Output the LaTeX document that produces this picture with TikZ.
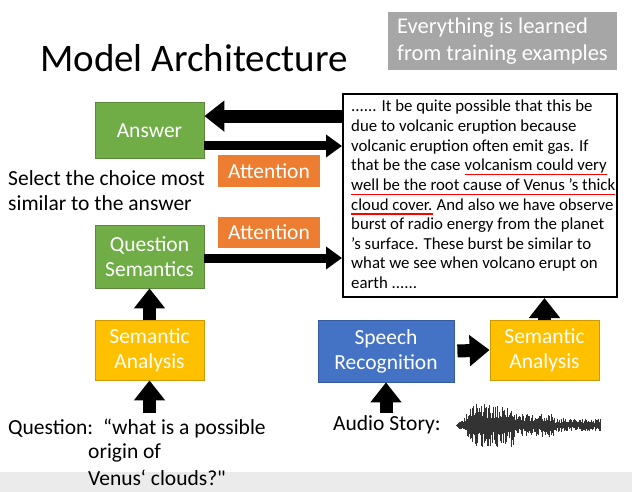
\documentclass[tikz,border=0pt]{standalone}
\usepackage{fontspec}
\setmainfont{Carlito}
\usetikzlibrary{arrows.meta}
\definecolor{grn}{HTML}{70AD47}
\definecolor{yel}{HTML}{FFC000}
\definecolor{blu}{HTML}{4472C4}
\definecolor{org}{HTML}{ED7D31}
\definecolor{gry}{HTML}{A6A6A6}
\definecolor{ulred}{HTML}{FF0000}
\begin{document}
\begin{tikzpicture}[x=1pt,y=-1pt,
  box/.style={draw=#1!80!black,fill=#1,text=white,minimum width=109pt,minimum height=56pt,align=center,font=\fontsize{21.5}{25}\selectfont,inner sep=0pt,line width=0.8pt},
  att/.style={fill=org,text=white,minimum width=102pt,minimum height=31pt,font=\fontsize{21.5}{25}\selectfont,inner sep=0pt},
  big/.style={line width=13pt,-{Triangle[length=20pt,width=30pt]}},
  thin/.style={line width=9pt,-{Triangle[length=16pt,width=22pt]}},
  txt/.style={font=\fontsize{21.5}{26}\selectfont,anchor=west,inner sep=0pt},
  bl/.style={font=\fontsize{16.8}{20}\selectfont,anchor=base west,inner sep=0pt},
  ul/.style={draw=ulred,line width=1.3pt}]
\useasboundingbox (0,0) rectangle (632,492);
\fill[white] (0,0) rectangle (632,492);
\fill[black!8] (0,472) rectangle (632,492);
\node[font=\fontsize{39}{44}\selectfont,inner sep=0pt] (title) at (194,58) {Model Architecture};
\node[fill=gry,text=white,minimum width=229pt,minimum height=58pt,align=left,font=\fontsize{22.5}{27}\selectfont,inner sep=0pt] (learn) at (502.5,41) {Everything is learned\\from training examples};
\node[box=grn] (ans) at (149.5,130.5) {Answer};
\node[box=grn,minimum height=63pt] (qs) at (149.5,256.5) {Question\\Semantics};
\node[box=yel,minimum height=60pt] (sa1) at (149.5,350) {Semantic\\Analysis};
\node[box=blu,minimum width=136pt,minimum height=62pt] (sr) at (386,351) {Speech\\Recognition};
\node[box=yel,minimum height=60pt] (sa2) at (544.5,350) {Semantic\\Analysis};
\node[draw,line width=2pt,minimum width=274pt,minimum height=203pt,inner sep=0pt] (story) at (480,195.5) {};
\node[att] (att1) at (269,171) {Attention};
\node[att] (att2) at (269,232.5) {Attention};
\node[txt] (sel1) at (8,178) {Select the choice most};
\node[txt] (sel2) at (8,203) {similar to the answer};
\node[bl] (l0) at (351,112) {...... It be quite possible that this be};
\node[bl] (l1) at (351,131.6) {due to volcanic eruption because};
\node[bl] (l2) at (351,151.2) {volcanic eruption often emit gas. If};
\node[bl] (l3) at (351,170.8) {that be the case};
\node[bl] (u3) at ([xshift=3.8pt]l3.base east) {volcanism could very};
\node[bl] (u4) at (351,190.4) {well be the root cause of Venus 's thick};
\node[bl] (u5) at (351,210) {cloud cover.};
\node[bl] (l5) at ([xshift=3.8pt]u5.base east) {And also we have observe};
\node[bl] (l6) at (351,229.6) {burst of radio energy from the planet};
\node[bl] (l7) at (351,249.2) {'s surface. These burst be similar to};
\node[bl] (l8) at (351,268.8) {what we see when volcano erupt on};
\node[bl] (l9) at (351,288.4) {earth ......};
\foreach \u in {u3,u4,u5}
  \draw[ul] ([yshift=-4pt]\u.base west) -- ([yshift=-4pt]\u.base east);
\node[txt] (q1) at (8,428) {Question: \,“what is a possible};
\node[txt] (q2) at (88,453) {origin of};
\node[txt] (q3) at (88,478) {Venus‘ clouds?\textquotedbl};
\node[txt] (aud) at (333,425) {Audio Story:};
\coordinate (w0) at (455,425);
\pgfmathsetseed{7}
\foreach \x in {0,1,...,145}{
  \pgfmathsetmacro{\env}{(\x<20?\x/20:(\x<60?1:(\x<100?0.55:0.3)))*22}
  \pgfmathsetmacro{\a}{\env*(0.3+0.7*rnd)}
  \pgfmathsetmacro{\b}{\env*(0.3+0.7*rnd)}
  \draw[black!80,line width=0.7pt] ([shift={(\x,-\a)}]w0) -- ([shift={(\x,\b)}]w0);
}
\draw[big] (story.west|-ans.north) ++(0,14) coordinate (s1) -- (ans.east|-s1);
\coordinate (s2) at (story.west|-0,146);
\draw[thin] (ans.east|-s2) -- (s2);
\coordinate (s3) at (qs.east|-0,258);
\draw[thin] (s3) -- (story.west|-s3);
\draw[big] (sa1.north) -- (qs.south);
\draw[big] (sa1.south|-0,413) coordinate (q0) -- (sa1.south);
\draw[big] (sr.south|-0,413) -- (sr.south);
\draw[big] (sr.east) ++(3,0) -- (sa2.west);
\draw[big] (sa2.north) -- (sa2.north|-story.south);
\end{tikzpicture}
\end{document}
